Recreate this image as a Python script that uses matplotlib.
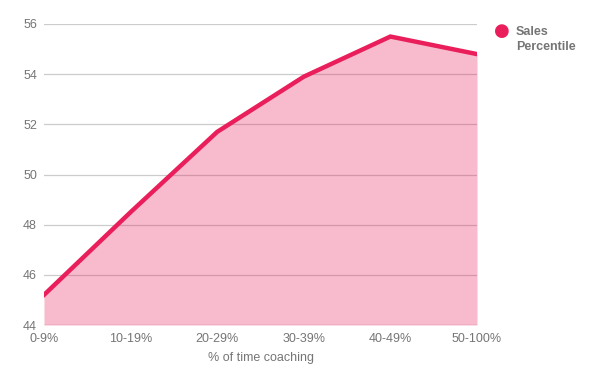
import matplotlib
matplotlib.use('Agg')
import matplotlib.pyplot as plt

# data
categories = ['0-9%', '10-19%', '20-29%', '30-39%', '40-49%', '50-100%']
sales_percentile = [45.2, 48.5, 51.7, 53.9, 55.5, 54.8]
y_ticks = [44, 46, 48, 50, 52, 54, 56]

line_color = '#E91E5A'
text_color = '#757575'

plt.rcParams['font.family'] = ['Liberation Sans', 'DejaVu Sans']

fig = plt.figure(figsize=(6, 3.71), dpi=100)
ax = fig.add_axes([44/600, 1 - 325/371, (477 - 44)/600, (325 - 24)/371])

x = list(range(len(categories)))

# grid under a see-through fill, as in the reference
for yv in y_ticks[1:]:
    ax.axhline(yv, color='#cccccc', linewidth=0.9, zorder=1)
ax.axhline(44, color='#bbbbbb', linewidth=1.0, zorder=1)

ax.fill_between(x, sales_percentile, 44, color=line_color, alpha=0.3, linewidth=0, zorder=2)
ax.plot(x, sales_percentile, color=line_color, linewidth=3.2, solid_joinstyle='miter', zorder=3)

ax.set_xlim(0, len(categories) - 1)
ax.set_ylim(44, 56)
ax.set_yticks(y_ticks)
ax.set_xticks(x)
ax.set_xticklabels(categories)

for s in ax.spines.values():
    s.set_visible(False)
ax.tick_params(length=0, colors=text_color, labelsize=9)
ax.tick_params(axis='x', pad=6)
ax.tick_params(axis='y', pad=5)

ax.set_xlabel('% of time coaching', color=text_color, fontsize=9, labelpad=5)

# legend
fig.text(502/600, 1 - 31/371, '\u25CF', color=line_color, fontsize=13,
         ha='center', va='center', family='DejaVu Sans')
fig.text(516/600, 1 - 26/371, 'Sales\nPercentile', color=text_color, fontsize=9,
         fontweight='bold', ha='left', va='top', linespacing=1.3)

fig.savefig('out.png', dpi=100)
